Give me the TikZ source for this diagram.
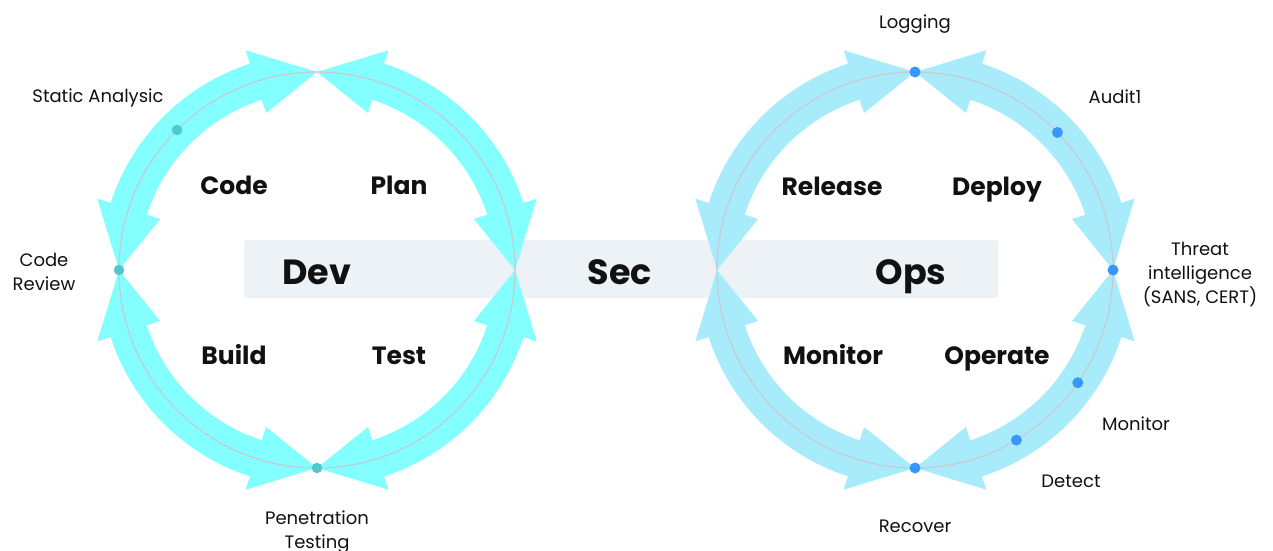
\documentclass[tikz,border=0pt]{standalone}
\usepackage{fontspec}
\setmainfont{Poppins}
\usetikzlibrary{calc}
\definecolor{cyanA}{HTML}{84FFFF}
\definecolor{blueA}{HTML}{A8ECFB}
\definecolor{ring}{HTML}{C9C9D3}
\definecolor{dotL}{HTML}{52C8CE}
\definecolor{dotR}{HTML}{3896FF}
\definecolor{barc}{HTML}{EDF2F7}
\definecolor{ink}{HTML}{111111}
\newcommand\quarterarrow[4]{%
 \fill[#4] ($(#1)+(#2:198)$) -- ($(#1)+(#2+18:231)$) -- ($(#1)+(#2+18:217)$)
   arc[start angle=#2+18, end angle=#3-18, radius=217]
   -- ($(#1)+(#3-18:231)$) -- ($(#1)+(#3:198)$) -- ($(#1)+(#3-18:165)$) -- ($(#1)+(#3-18:179)$)
   arc[start angle=#3-18, end angle=#2+18, radius=179]
   -- ($(#1)+(#2+18:165)$) -- cycle;}
\tikzset{
  small/.style={text=ink, font=\fontsize{18}{24}\selectfont, align=center, inner sep=0, anchor=base},
  phase/.style={text=ink, font=\fontsize{25}{30}\selectfont\bfseries, inner sep=0, anchor=base},
  big/.style={text=ink, font=\fontsize{35}{40}\selectfont\bfseries, inner sep=0, anchor=base},
  dotl/.style={circle, fill=dotL, inner sep=0, minimum size=10.5pt},
  dotr/.style={circle, fill=dotR, inner sep=0, minimum size=11pt},
}
\begin{document}
\begin{tikzpicture}[x=1pt,y=-1pt]
\useasboundingbox (0,0) rectangle (1273,550);
\coordinate (cL) at (317,270);
\coordinate (cR) at (915,270);
\node[fill=barc, rounded corners=2pt, minimum width=754pt, minimum height=58pt, inner sep=0] (bar) at (621,269) {};
% arrows
\quarterarrow{cL}{180}{270}{cyanA}
\quarterarrow{cL}{270}{360}{cyanA}
\quarterarrow{cL}{0}{90}{cyanA}
\quarterarrow{cL}{90}{180}{cyanA}
\quarterarrow{cR}{180}{270}{blueA}
\quarterarrow{cR}{270}{360}{blueA}
\quarterarrow{cR}{0}{90}{blueA}
\quarterarrow{cR}{90}{180}{blueA}
\draw[ring, line width=1.2pt] (cL) circle[radius=198];
\draw[ring, line width=1.2pt] (cR) circle[radius=198];
% dots
\node[dotl] (dsa) at ($(cL)+(225:198)$) {};
\node[dotl] (dcr) at ($(cL)+(180:198)$) {};
\node[dotl] (dpt) at ($(cL)+(90:198)$) {};
\node[dotr] (dlog) at ($(cR)+(270:198)$) {};
\node[dotr] (daud) at ($(cR)+(316:198)$) {};
\node[dotr] (dthr) at ($(cR)+(0:198)$) {};
\node[dotr] (dmon) at ($(cR)+(34.7:198)$) {};
\node[dotr] (ddet) at ($(cR)+(59.2:198)$) {};
\node[dotr] (drec) at ($(cR)+(90:198)$) {};
% small labels
\node[small] (lsa) at (98,102) {Static Analysic};
\node[small] (lcr) at (44,290) {Code\\Review};
\node[small] (lpt) at (317,548) {Penetration\\Testing};
\node[small] (llog) at (915,28) {Logging};
\node[small] (laud) at (1115,103) {Audit1};
\node[small] (lthr) at (1200,303) {Threat\\intelligence\\(SANS, CERT)};
\node[small] (lmon) at (1136,430) {Monitor};
\node[small] (ldet) at (1071,487) {Detect};
\node[small] (lrec) at (915,532) {Recover};
% phase labels
\node[phase] (pcode) at (234,194) {Code};
\node[phase] (pplan) at (399,194) {Plan};
\node[phase] (pbuild) at (234,364) {Build};
\node[phase] (ptest) at (399,364) {Test};
\node[phase] (prel) at (832,195) {Release};
\node[phase] (pdep) at (997,195) {Deploy};
\node[phase] (pmon) at (833,364) {Monitor};
\node[phase] (pop) at (997,364) {Operate};
% big
\node[big] (tdev) at (317,284) {Dev};
\node[big] (tsec) at (620,284) {Sec};
\node[big] (tops) at (911,284) {Ops};
\end{tikzpicture}
\end{document}
